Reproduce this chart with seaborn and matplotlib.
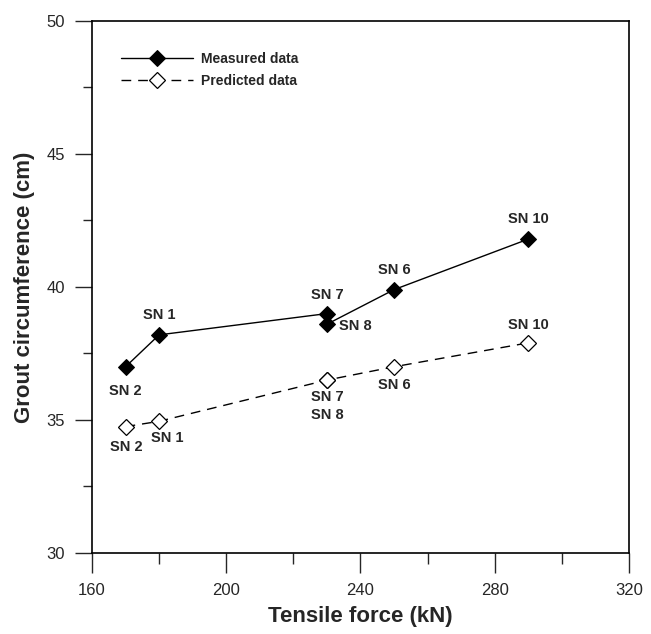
import matplotlib
matplotlib.use("Agg")
import matplotlib.pyplot as plt
from matplotlib.ticker import MultipleLocator
import seaborn as sns
import pandas as pd

# %% data
specimens = ["SN 2", "SN 1", "SN 7", "SN 8", "SN 6", "SN 10"]
force = [170, 180, 230, 230, 250, 290]
measured = [37.0, 38.2, 39.0, 38.6, 39.9, 41.8]
predicted = [34.75, 34.95, 36.5, 36.5, 37.0, 37.9]

df = pd.DataFrame({"Specimen": specimens, "Force": force,
                   "Measured data": measured, "Predicted data": predicted})

# %% style
sns.set_style("white")
plt.rcParams["font.family"] = ["Liberation Sans", "DejaVu Sans"]

fig = plt.figure(figsize=(6.51, 6.34), dpi=100)
ax = fig.add_axes([0.1413, 0.1278, 0.8249, 0.8391])

sns.lineplot(data=df, x="Force", y="Measured data", ax=ax, color="black", lw=1.0,
             marker="D", markersize=8.5, markerfacecolor="black", markeredgecolor="black",
             sort=False, estimator=None, label="Measured data")
sns.lineplot(data=df, x="Force", y="Predicted data", ax=ax, color="black", lw=1.0,
             linestyle=(0, (7, 5)), marker="D", markersize=8.5, markerfacecolor="white",
             markeredgecolor="black", markeredgewidth=0.9,
             sort=False, estimator=None, label="Predicted data")

# label offsets in pixels (dx, dy) for each specimen
offM = [(0, -24), (0, 20), (0, 19), (28, -2), (0, 20), (0, 20)]
offP = [(1, -20), (8, -17), (0, -17), (0, -35), (0, -18), (0, 18)]
for i, name in enumerate(specimens):
    ax.annotate(name, (force[i], measured[i]), xytext=offM[i], textcoords="offset pixels",
                ha="center", va="center", fontsize=10.5, fontweight="bold")
    ax.annotate(name, (force[i], predicted[i]), xytext=offP[i], textcoords="offset pixels",
                ha="center", va="center", fontsize=10.5, fontweight="bold")

# %% axes
ax.set_xlim(160, 320)
ax.set_ylim(30, 50)
ax.xaxis.set_major_locator(MultipleLocator(40))
ax.xaxis.set_minor_locator(MultipleLocator(20))
ax.yaxis.set_major_locator(MultipleLocator(5))
ax.yaxis.set_minor_locator(MultipleLocator(2.5))
ax.tick_params(axis="x", which="major", direction="out", length=14.5, width=1.0, pad=7,
               labelsize=12, bottom=True, top=False)
ax.tick_params(axis="x", which="minor", direction="out", length=8, width=1.0,
               bottom=True, top=False)
ax.tick_params(axis="y", which="major", direction="out", length=12.5, width=1.0, pad=7,
               labelsize=12, left=True, right=False)
ax.tick_params(axis="y", which="minor", direction="out", length=6.5, width=1.0,
               left=True, right=False)
for s in ax.spines.values():
    s.set_color("black")
    s.set_linewidth(1.2)

ax.set_xlabel("Tensile force (kN)", fontsize=16, fontweight="bold", labelpad=6)
ax.set_ylabel("Grout circumference (cm)", fontsize=16, fontweight="bold", labelpad=8)

leg = ax.legend(loc="upper left", bbox_to_anchor=(0.03, 0.965), frameon=False,
                fontsize=10, handlelength=5.2, handletextpad=0.6, labelspacing=0.55)
for t in leg.get_texts():
    t.set_fontweight("bold")

fig.savefig("out.png", dpi=100)
